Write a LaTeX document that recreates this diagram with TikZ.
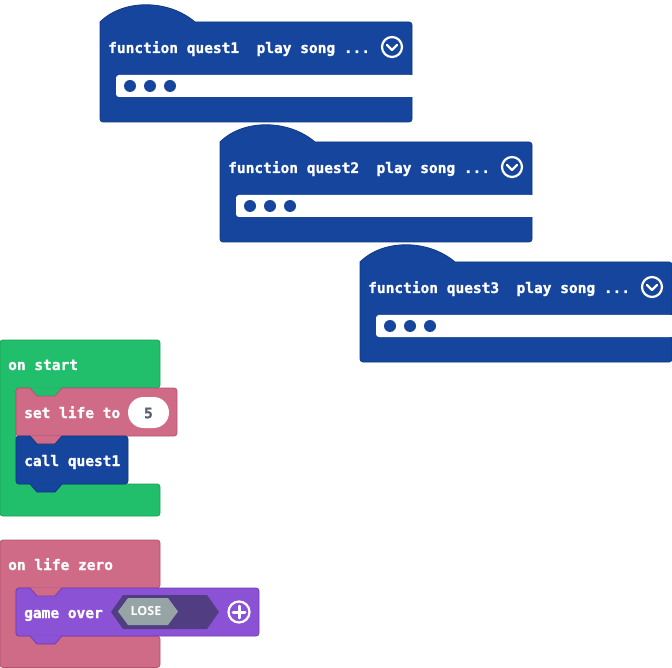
\documentclass[tikz,border=0pt]{standalone}
\usepackage{fontspec}
\newfontfamily\blockfont{DejaVu Sans Mono}[BoldFont={DejaVu Sans Mono Bold}, BoldFeatures={FakeBold=1.2}]
\newfontfamily\tagfont{Open Sans Bold}
\definecolor{fnblue}{RGB}{22,69,157}
\definecolor{fnedge}{RGB}{16,55,130}
\definecolor{evgreen}{RGB}{33,191,107}
\definecolor{evgreenedge}{RGB}{26,160,88}
\definecolor{varpink}{RGB}{207,106,135}
\definecolor{varpinkedge}{RGB}{178,86,112}
\definecolor{gamepurple}{RGB}{140,82,214}
\definecolor{gamepurpleedge}{RGB}{112,62,180}
\definecolor{hexdark}{RGB}{81,62,130}
\definecolor{hexgray}{RGB}{150,164,165}
\definecolor{numtext}{RGB}{87,94,117}

\tikzset{
  lbl/.style={text=white, font=\blockfont\bfseries\fontsize{14.5}{16}\selectfont,
    anchor=base west, inner sep=0pt},
  fnblk/.style={fill=fnblue, draw=fnedge, line width=0.8pt},
  greenblk/.style={fill=evgreen, draw=evgreenedge, line width=0.8pt},
  pinkblk/.style={fill=varpink, draw=varpinkedge, line width=0.8pt},
  purpleblk/.style={fill=gamepurple, draw=gamepurpleedge, line width=0.8pt},
  icon/.style={draw=white, line width=2.2pt, line cap=round, line join=round},
}

% function definition block with its hat, title, collapse icon and empty body
\newcommand\fnblock[3]{%
  \begin{scope}[shift={(#1,#2)}]
    \filldraw[fnblk] (100,22) .. controls (123,-1) and (168,-1) .. (195,22)
      [rounded corners=3] -- (412,22) -- (412,122) -- (100,122) -- (100,22);
    \fill[white, rounded corners=3] (116,75) -- (413,75) -- (413,97) -- (116,97) -- cycle;
    \fill[white] (300,75) rectangle (413,97);
    \foreach \dx in {130,150,170} \fill[fnblue] (\dx,86) circle (6);
    \node[lbl] (fn#3) at (108,53) {function quest#3\ \ play song ...};
    \draw[icon] (392,47) circle (10);
    \draw[icon, line width=2.4pt] (387,45) -- (392,50) -- (397,45);
  \end{scope}}

% connection tab between stacked blocks
\newcommand\tab[3]{%
  \fill[#1] (30,#3-0.6) -- (30,#3) -- (37,#3+8) -- (55,#3+8) -- (62,#3) -- (62,#3-0.6) -- cycle;
  \draw[#2, line width=0.8pt, line join=round] (30,#3) -- (37,#3+8) -- (55,#3+8) -- (62,#3);}

\begin{document}
\begin{tikzpicture}[x=1pt, y=-1pt]
  \useasboundingbox (0,0) rectangle (672,668);

  \fnblock{0}{0}{1}
  \fnblock{120}{120}{2}
  \fnblock{260}{240}{3}

  % on start
  \filldraw[greenblk, rounded corners=3] (0,340) -- (160,340) -- (160,388) -- (16,388)
    -- (16,484) -- (160,484) -- (160,516) -- (0,516) -- cycle;
  \node[lbl] (onstart) at (8,370) {on start};
  \filldraw[pinkblk, rounded corners=3] (16,388) rectangle (177,436);
  \node[lbl] (setlife) at (24,418) {set life to};
  \fill[white, rounded corners=15.5] (128,397) rectangle (169,428);
  \node[font=\blockfont\bfseries\fontsize{14.5}{16}\selectfont, text=numtext, inner sep=0pt]
    (lifeval) at (148.5,413) {5};
  \filldraw[fnblk, rounded corners=3] (16,436) rectangle (128,484);
  \node[lbl] (callq) at (24,466) {call quest1};
  \tab{evgreen}{varpinkedge}{388}
  \tab{varpink}{fnedge}{436}
  \tab{fnblue}{fnedge}{484}

  % on life zero
  \filldraw[pinkblk, rounded corners=3] (0,540) -- (160,540) -- (160,588) -- (16,588)
    -- (16,636) -- (160,636) -- (160,667.5) -- (0,667.5) -- cycle;
  \node[lbl] (onzero) at (8,570) {on life zero};
  \filldraw[purpleblk, rounded corners=3] (16,588) rectangle (259,636);
  \node[lbl] (gameover) at (24,618) {game over};
  \fill[hexdark] (111,612) -- (123,595) -- (207,595) -- (219,612) -- (207,629) -- (123,629) -- cycle;
  \fill[hexgray] (118,611.5) -- (128,598) -- (168,598) -- (178,611.5) -- (168,625) -- (128,625) -- cycle;
  \node[font=\tagfont\fontsize{12.5}{13}\selectfont, text=white, inner sep=0pt]
    (lose) at (146,611.5) {LOSE};
  \draw[icon] (239,612) circle (10.5);
  \draw[icon, line width=3pt] (233,612) -- (245,612) (239,606) -- (239,618);
  \tab{varpink}{gamepurpleedge}{588}
  \tab{gamepurple}{gamepurpleedge}{636}
\end{tikzpicture}
\end{document}
